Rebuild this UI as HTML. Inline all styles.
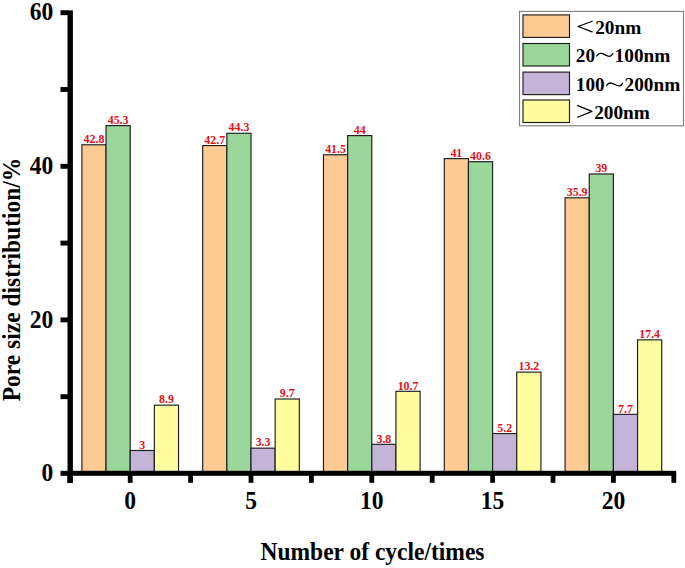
<!DOCTYPE html>
<html><head><meta charset="utf-8"><style>
html,body{margin:0;padding:0;background:#fff;}
svg{display:block;}
text{font-family:"Liberation Serif",serif;font-weight:bold;}
.lab{font-size:11.9px;fill:#e8101a;text-anchor:middle;}
.tk{font-size:23.5px;fill:#000;}
.ttl{font-size:23.5px;fill:#000;}
.lg{font-size:19.3px;fill:#000;}
</style></head><body>
<svg width="685" height="568" viewBox="0 0 685 568">
<rect width="685" height="568" fill="#fff"/>
<rect x="81.88" y="144.80" width="24.16" height="328.70" fill="#FECA93" stroke="#1c1c1c" stroke-width="1.15"/>
<rect x="106.04" y="125.60" width="24.16" height="347.90" fill="#9AD59A" stroke="#1c1c1c" stroke-width="1.15"/>
<rect x="130.20" y="450.46" width="24.16" height="23.04" fill="#C4B4D8" stroke="#1c1c1c" stroke-width="1.15"/>
<rect x="154.36" y="405.15" width="24.16" height="68.35" fill="#FFFFA0" stroke="#1c1c1c" stroke-width="1.15"/>
<rect x="202.68" y="145.56" width="24.16" height="327.94" fill="#FECA93" stroke="#1c1c1c" stroke-width="1.15"/>
<rect x="226.84" y="133.28" width="24.16" height="340.22" fill="#9AD59A" stroke="#1c1c1c" stroke-width="1.15"/>
<rect x="251.00" y="448.16" width="24.16" height="25.34" fill="#C4B4D8" stroke="#1c1c1c" stroke-width="1.15"/>
<rect x="275.16" y="399.00" width="24.16" height="74.50" fill="#FFFFA0" stroke="#1c1c1c" stroke-width="1.15"/>
<rect x="323.48" y="154.78" width="24.16" height="318.72" fill="#FECA93" stroke="#1c1c1c" stroke-width="1.15"/>
<rect x="347.64" y="135.58" width="24.16" height="337.92" fill="#9AD59A" stroke="#1c1c1c" stroke-width="1.15"/>
<rect x="371.80" y="444.32" width="24.16" height="29.18" fill="#C4B4D8" stroke="#1c1c1c" stroke-width="1.15"/>
<rect x="395.96" y="391.32" width="24.16" height="82.18" fill="#FFFFA0" stroke="#1c1c1c" stroke-width="1.15"/>
<rect x="444.28" y="158.62" width="24.16" height="314.88" fill="#FECA93" stroke="#1c1c1c" stroke-width="1.15"/>
<rect x="468.44" y="161.69" width="24.16" height="311.81" fill="#9AD59A" stroke="#1c1c1c" stroke-width="1.15"/>
<rect x="492.60" y="433.56" width="24.16" height="39.94" fill="#C4B4D8" stroke="#1c1c1c" stroke-width="1.15"/>
<rect x="516.76" y="372.12" width="24.16" height="101.38" fill="#FFFFA0" stroke="#1c1c1c" stroke-width="1.15"/>
<rect x="565.08" y="197.79" width="24.16" height="275.71" fill="#FECA93" stroke="#1c1c1c" stroke-width="1.15"/>
<rect x="589.24" y="173.98" width="24.16" height="299.52" fill="#9AD59A" stroke="#1c1c1c" stroke-width="1.15"/>
<rect x="613.40" y="414.36" width="24.16" height="59.14" fill="#C4B4D8" stroke="#1c1c1c" stroke-width="1.15"/>
<rect x="637.56" y="339.87" width="24.16" height="133.63" fill="#FFFFA0" stroke="#1c1c1c" stroke-width="1.15"/>
<text transform="translate(93.96,143.00) scale(1,1.06)" class="lab">42.8</text>
<text transform="translate(118.12,123.80) scale(1,1.06)" class="lab">45.3</text>
<text transform="translate(142.28,448.66) scale(1,1.06)" class="lab">3</text>
<text transform="translate(166.44,403.35) scale(1,1.06)" class="lab">8.9</text>
<text transform="translate(214.76,143.76) scale(1,1.06)" class="lab">42.7</text>
<text transform="translate(238.92,131.48) scale(1,1.06)" class="lab">44.3</text>
<text transform="translate(263.08,446.36) scale(1,1.06)" class="lab">3.3</text>
<text transform="translate(287.24,397.20) scale(1,1.06)" class="lab">9.7</text>
<text transform="translate(335.56,152.98) scale(1,1.06)" class="lab">41.5</text>
<text transform="translate(359.72,133.78) scale(1,1.06)" class="lab">44</text>
<text transform="translate(383.88,442.52) scale(1,1.06)" class="lab">3.8</text>
<text transform="translate(408.04,389.52) scale(1,1.06)" class="lab">10.7</text>
<text transform="translate(456.36,156.82) scale(1,1.06)" class="lab">41</text>
<text transform="translate(480.52,159.89) scale(1,1.06)" class="lab">40.6</text>
<text transform="translate(504.68,431.76) scale(1,1.06)" class="lab">5.2</text>
<text transform="translate(528.84,370.32) scale(1,1.06)" class="lab">13.2</text>
<text transform="translate(577.16,195.99) scale(1,1.06)" class="lab">35.9</text>
<text transform="translate(601.32,172.18) scale(1,1.06)" class="lab">39</text>
<text transform="translate(625.48,412.56) scale(1,1.06)" class="lab">7.7</text>
<text transform="translate(649.64,338.07) scale(1,1.06)" class="lab">17.4</text>
<rect x="67.50" y="10.40" width="5.4" height="472.60" fill="#000"/>
<rect x="60.50" y="470.80" width="615.70" height="5.0" fill="#000"/>
<rect x="60.50" y="394.25" width="8.00" height="4.9" fill="#000"/>
<rect x="60.50" y="317.45" width="8.00" height="4.9" fill="#000"/>
<rect x="60.50" y="240.65" width="8.00" height="4.9" fill="#000"/>
<rect x="60.50" y="163.85" width="8.00" height="4.9" fill="#000"/>
<rect x="60.50" y="87.05" width="8.00" height="4.9" fill="#000"/>
<rect x="60.50" y="10.25" width="8.00" height="4.9" fill="#000"/>
<rect x="67.40" y="473.30" width="4.8" height="9.50" fill="#000"/>
<rect x="127.80" y="473.30" width="4.8" height="9.50" fill="#000"/>
<rect x="188.20" y="473.30" width="4.8" height="9.50" fill="#000"/>
<rect x="248.60" y="473.30" width="4.8" height="9.50" fill="#000"/>
<rect x="309.00" y="473.30" width="4.8" height="9.50" fill="#000"/>
<rect x="369.40" y="473.30" width="4.8" height="9.50" fill="#000"/>
<rect x="429.80" y="473.30" width="4.8" height="9.50" fill="#000"/>
<rect x="490.20" y="473.30" width="4.8" height="9.50" fill="#000"/>
<rect x="550.60" y="473.30" width="4.8" height="9.50" fill="#000"/>
<rect x="611.00" y="473.30" width="4.8" height="9.50" fill="#000"/>
<rect x="671.40" y="473.30" width="4.8" height="9.50" fill="#000"/>
<text transform="translate(53.20,481.10) scale(1,1.06)" class="tk" text-anchor="end">0</text>
<text transform="translate(53.20,327.50) scale(1,1.06)" class="tk" text-anchor="end">20</text>
<text transform="translate(53.20,173.90) scale(1,1.06)" class="tk" text-anchor="end">40</text>
<text transform="translate(53.20,20.30) scale(1,1.06)" class="tk" text-anchor="end">60</text>
<text transform="translate(130.20,508.90) scale(1,1.06)" class="tk" text-anchor="middle">0</text>
<text transform="translate(251.00,508.90) scale(1,1.06)" class="tk" text-anchor="middle">5</text>
<text transform="translate(371.80,508.90) scale(1,1.06)" class="tk" text-anchor="middle">10</text>
<text transform="translate(492.60,508.90) scale(1,1.06)" class="tk" text-anchor="middle">15</text>
<text transform="translate(613.40,508.90) scale(1,1.06)" class="tk" text-anchor="middle">20</text>
<text transform="translate(372.50,560.30) scale(1,1.03)" class="ttl" text-anchor="middle">Number of cycle/times</text>
<text transform="translate(20.0,279.5) rotate(-90) scale(1,1.03)" class="ttl" text-anchor="middle">Pore size distribution/%</text>
<rect x="519.5" y="11.4" width="164" height="114.4" fill="#fff" stroke="#808080" stroke-width="1.15"/>
<rect x="523" y="14.90" width="46.5" height="22.5" fill="#FECA93" stroke="#1c1c1c" stroke-width="1.15"/>
<rect x="523" y="43.50" width="46.5" height="22.5" fill="#9AD59A" stroke="#1c1c1c" stroke-width="1.15"/>
<rect x="523" y="72.10" width="46.5" height="22.5" fill="#C4B4D8" stroke="#1c1c1c" stroke-width="1.15"/>
<rect x="523" y="100.00" width="46.5" height="22.5" fill="#FFFFA0" stroke="#1c1c1c" stroke-width="1.15"/>
<g class="lgt">
<path d="M592.2 21.2 L578.0 26.5 L592.2 31.9" fill="none" stroke="#000" stroke-width="1.2" stroke-linejoin="round" stroke-linecap="round"/>
<text transform="translate(595.20,33.60) scale(1,1.0)" class="lg">20nm</text>
<text transform="translate(575.80,62.30) scale(1,1.0)" class="lg">20</text>
<path d="M596.80 55.90 C598.20 53.60 600.00 52.90 602.50 53.70 C605.00 54.50 607.00 56.60 609.60 56.30 C611.00 56.10 612.20 55.10 612.80 53.60" fill="none" stroke="#000" stroke-width="1.35" stroke-linecap="round"/>
<text transform="translate(614.60,62.30) scale(1,1.0)" class="lg">100nm</text>
<text transform="translate(575.80,91.40) scale(1,1.0)" class="lg">100</text>
<path d="M606.60 85.50 C608.00 83.20 609.80 82.50 612.30 83.30 C614.80 84.10 616.80 86.20 619.40 85.90 C620.80 85.70 622.00 84.70 622.60 83.20" fill="none" stroke="#000" stroke-width="1.35" stroke-linecap="round"/>
<text transform="translate(624.50,91.40) scale(1,1.0)" class="lg">200nm</text>
<path d="M577.6 105.6 L592.0 111.4 L577.6 117.2" fill="none" stroke="#000" stroke-width="1.2" stroke-linejoin="round" stroke-linecap="round"/>
<text transform="translate(594.20,118.60) scale(1,1.0)" class="lg">200nm</text>
</g>
</svg>
</body></html>
